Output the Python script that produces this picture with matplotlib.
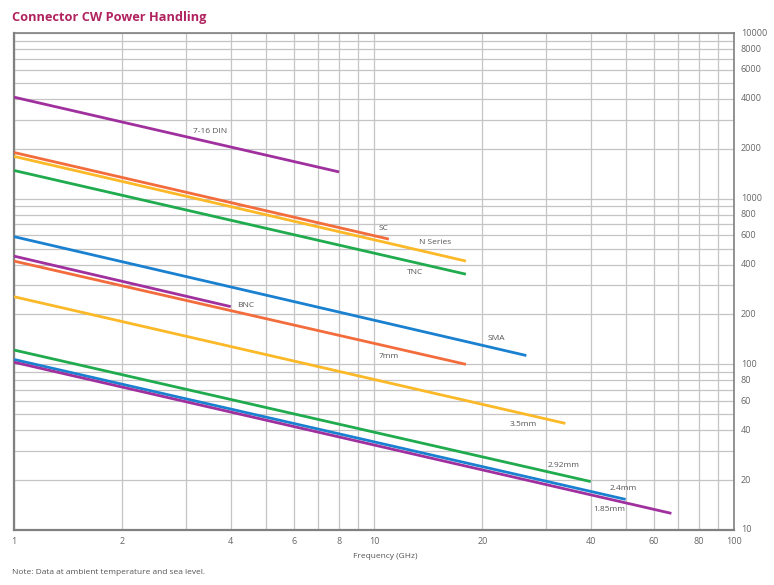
import matplotlib
matplotlib.use("Agg")
import matplotlib.pyplot as plt
from matplotlib.ticker import LogLocator, NullFormatter, NullLocator

plt.rcParams["font.family"] = ["Open Sans", "DejaVu Sans"]

# connector lines: power (W) vs frequency (GHz), straight in log-log
names = ["7-16 DIN", "SC", "N Series", "TNC", "SMA", "BNC", "7mm",
         "3.5mm", "2.92mm", "2.4mm", "1.85mm"]
f_start = [1, 1, 1, 1, 1, 1, 1, 1, 1, 1, 1]
f_end = [8, 11, 18, 18, 26.5, 4, 18, 34, 40, 50, 67]
p_start = [4100, 1900, 1800, 1480, 590, 450, 420, 256, 122, 107, 103]
p_end = [1450, 570, 420, 350, 113, 223, 100, 44, 19.6, 15.3, 12.6]
colors = ["#a0309e", "#f26c3c", "#fbb827", "#20ab4e", "#1a80d0", "#a0309e",
          "#f26c3c", "#fbb827", "#20ab4e", "#1a80d0", "#a0309e"]

# where each name is written
lab_x = [3.5, 10.6, 14.8, 13.0, 21.8, 4.4, 11.0, 26.0, 33.6, 49.3, 45.0]
lab_y = [2540, 662, 542, 357, 143, 228, 111, 43.6, 24.6, 17.7, 13.3]

x_ticks = [1, 2, 4, 6, 8, 10, 20, 40, 60, 80, 100]
y_ticks = [10, 20, 40, 60, 80, 100, 200, 400, 600, 800, 1000, 2000,
           4000, 6000, 8000, 10000]

fig = plt.figure(figsize=(7.74, 5.85), dpi=100)
ax = fig.add_axes([14 / 774, 1 - 530 / 585, 720 / 774, 497 / 585])
ax.set_xscale("log")
ax.set_yscale("log")
ax.set_xlim(1, 100)
ax.set_ylim(10, 10000)

for i in range(len(names)):
    ax.plot([f_start[i], f_end[i]], [p_start[i], p_end[i]],
            color=colors[i], lw=2.0, solid_capstyle="butt", zorder=3)
    ax.text(lab_x[i], lab_y[i], names[i], fontsize=6, color="#555555",
            ha="center", va="center", zorder=4)

# grid on every log step
ax.xaxis.set_major_locator(LogLocator(base=10, subs=range(1, 10)))
ax.yaxis.set_major_locator(LogLocator(base=10, subs=range(1, 10)))
ax.xaxis.set_minor_locator(NullLocator())
ax.yaxis.set_minor_locator(NullLocator())
ax.grid(True, which="major", color="#c4c4c4", lw=0.9)
ax.xaxis.set_major_formatter(NullFormatter())
ax.yaxis.set_major_formatter(NullFormatter())
ax.tick_params(length=0)

for xt in x_ticks:
    ax.text(xt, 8.55, str(xt), fontsize=6.5, color="#666666",
            ha="center", va="center")
for yt in y_ticks:
    ax.text(104.5, yt, str(yt), fontsize=6.5, color="#666666",
            ha="left", va="center")

for s in ax.spines.values():
    s.set_color("#808080")
    s.set_linewidth(1.2)
ax.spines["left"].set_linewidth(1.6)
ax.spines["bottom"].set_linewidth(1.6)

fig.text(12 / 774, 1 - 17 / 585, "Connector CW Power Handling", fontsize=9.2,
         fontweight="bold", color="#b0235f", ha="left", va="center")
fig.text(385 / 774, 1 - 556 / 585, "Frequency (GHz)", fontsize=6,
         color="#555555", ha="center", va="center")
fig.text(12 / 774, 1 - 572 / 585, "Note: Data at ambient temperature and sea level.",
         fontsize=6, color="#555555", ha="left", va="center")

fig.savefig("out.png", dpi=100)
